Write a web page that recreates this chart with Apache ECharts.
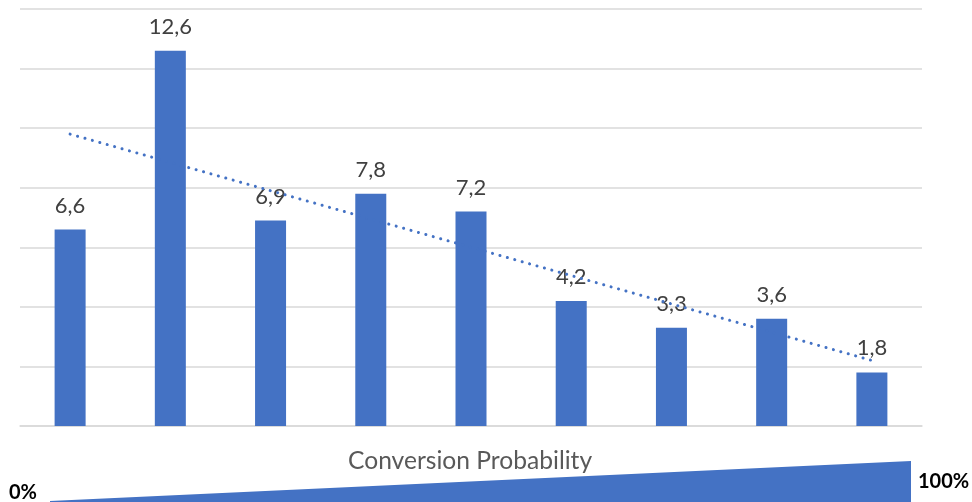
<!DOCTYPE html>
<html>
<head>
<meta charset="utf-8">
<script src="https://cdn.jsdelivr.net/npm/echarts@6/dist/echarts.min.js"></script>
<style>
  html, body { margin: 0; padding: 0; background: #fff; }
  #chart { width: 972px; height: 502px; }
</style>
</head>
<body>
<div id="chart"></div>
<script>
// Bucket values per conversion-probability step
const categories = ['1', '2', '3', '4', '5', '6', '7', '8', '9'];
const values = [6.6, 12.6, 6.9, 7.8, 7.2, 4.2, 3.3, 3.6, 1.8];
// Linear trend: value at the first and last bucket
const trendEnds = [9.8, 2.2];
const axisTitle = 'Conversion Probability';
const lowLabel = '0%';
const highLabel = '100%';

const trendData = categories.map((c, i) =>
  i === 0 ? trendEnds[0] : (i === categories.length - 1 ? trendEnds[1] : null));

const blue = '#4472C4';
const font = 'Lato, "Open Sans", sans-serif';
const chart = echarts.init(document.getElementById('chart'));
chart.setOption({
  animation: false,
  grid: { left: 20, right: 50, top: 9, bottom: 76, containLabel: false },
  xAxis: {
    type: 'category',
    data: categories,
    axisLine: { show: true, lineStyle: { color: '#D9D9D9', width: 1.5 } },
    axisTick: { show: false },
    axisLabel: { show: false }
  },
  yAxis: {
    type: 'value',
    min: 0, max: 14, interval: 2,
    axisLine: { show: false },
    axisTick: { show: false },
    axisLabel: { show: false },
    splitLine: { lineStyle: { color: '#D9D9D9', width: 1.5 } }
  },
  series: [
    {
      type: 'bar',
      data: values,
      barWidth: 31,
      itemStyle: { color: blue },
      label: {
        show: true,
        position: 'top',
        distance: 13,
        fontFamily: font,
        fontSize: 22,
        color: '#404040',
        formatter: p => p.value.toFixed(1).replace('.', ',')
      },
      z: 2
    },
    {
      type: 'line',
      data: trendData,
      connectNulls: true,
      symbol: 'none',
      lineStyle: { color: blue, width: 3, type: [0.1, 7.6], cap: 'round' },
      z: 3
    }
  ],
  graphic: [
    {
      type: 'text',
      left: 348,
      top: 449,
      style: {
        text: axisTitle,
        font: '24.6px ' + font,
        fill: '#595959'
      }
    },
    {
      type: 'polygon',
      shape: { points: [[50, 501], [911, 461], [911, 502], [50, 502]] },
      style: { fill: blue }
    },
    {
      type: 'text',
      left: 9,
      top: 483,
      style: { text: lowLabel, font: 'bold 20px ' + font, fill: '#000' }
    },
    {
      type: 'text',
      left: 918,
      top: 472,
      style: { text: highLabel, font: 'bold 20px ' + font, fill: '#000' }
    }
  ]
});
</script>
</body>
</html>
